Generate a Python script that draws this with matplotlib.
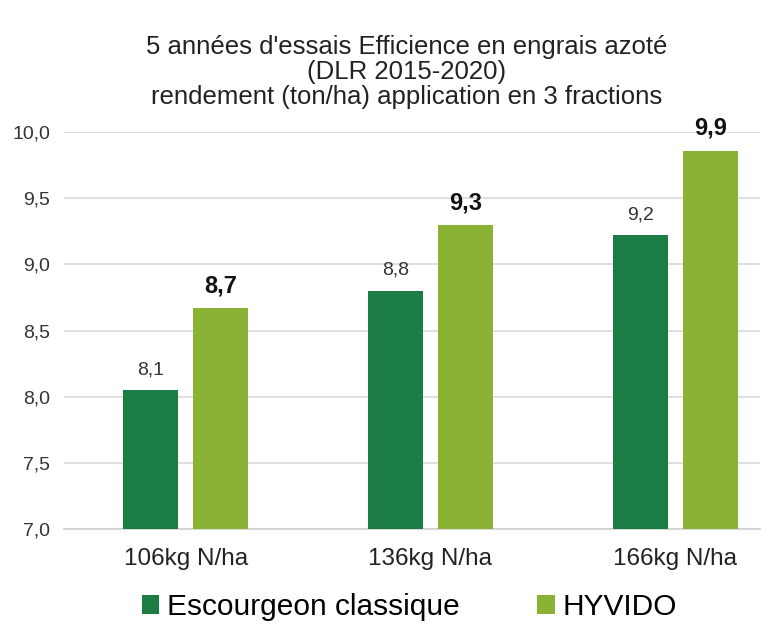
import numpy as np
import matplotlib.pyplot as plt

plt.rcParams['font.family'] = ['Liberation Sans', 'DejaVu Sans']

# data
categories = ['106kg N/ha', '136kg N/ha', '166kg N/ha']
escourgeon = [8.05, 8.8, 9.22]
hyvido = [8.67, 9.3, 9.86]
series_names = ['Escourgeon classique', 'HYVIDO']
yticks = [7.0, 7.5, 8.0, 8.5, 9.0, 9.5, 10.0]

dark = '#1B7D43'
light = '#8AB336'

fig = plt.figure(figsize=(7.68, 6.38), dpi=100)
ax = fig.add_axes([64/768, 1 - 529/638, 696/768, 397/638])

x = np.arange(len(categories))
w = 0.225
off = 0.143
b1 = ax.bar(x - off, escourgeon, w, bottom=0, color=dark, label=series_names[0], zorder=3)
b2 = ax.bar(x + off, hyvido, w, bottom=0, color=light, label=series_names[1], zorder=3)

for xi, v in zip(x - off, escourgeon):
    ax.text(xi, v + 0.09, f'{v:.1f}'.replace('.', ','), ha='center', va='bottom',
            fontsize=14, color='#333333')
for xi, v in zip(x + off, hyvido):
    ax.text(xi, v + 0.08, f'{v:.1f}'.replace('.', ','), ha='center', va='bottom',
            fontsize=17, fontweight='bold', color='#111111', clip_on=False)

ax.set_ylim(7.0, 10.0)
ax.set_xlim(-0.497, 2.346)
ax.set_yticks(yticks)
ax.set_yticklabels([f'{t:.1f}'.replace('.', ',') for t in yticks], fontsize=14, color='#333333')
ax.set_xticks(x)
ax.set_xticklabels(categories, fontsize=17.5, color='#222222')
ax.tick_params(length=0, pad=10)
ax.tick_params(axis='x', pad=14)
ax.grid(axis='y', color='#D9D9D9', linewidth=1.2, zorder=0)
for s in ['top', 'right', 'left']:
    ax.spines[s].set_visible(False)
ax.spines['bottom'].set_color('#D0D0D0')
ax.spines['bottom'].set_linewidth(1.2)

fig.text(0.529, 1 - 72/638,
         "5 années d'essais Efficience en engrais azoté\n(DLR 2015-2020)\n"
         "rendement (ton/ha) application en 3 fractions",
         ha='center', va='center', fontsize=18.5, color='#222222', linespacing=1.06)

fig.legend(handles=[b1, b2], labels=series_names, loc='center', ncol=2,
           bbox_to_anchor=(0.533, 1 - 607/638), frameon=False, fontsize=21.5,
           handlelength=0.6, handleheight=0.6, handletextpad=0.25, columnspacing=2.6)

fig.savefig('out.png', dpi=100, facecolor='white')
